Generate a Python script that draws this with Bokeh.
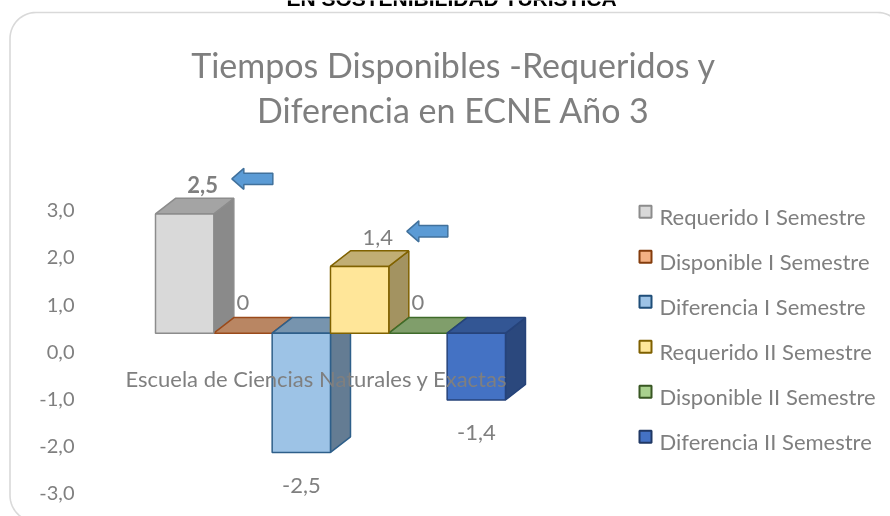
import numpy as np
from bokeh.plotting import figure
from bokeh.models import Range1d, ColumnDataSource
from bokeh.core.properties import value
from bokeh.embed import file_html
from bokeh.resources import INLINE

# ---------------- data ----------------
series = ["Requerido I Semestre", "Disponible I Semestre", "Diferencia I Semestre",
          "Requerido II Semestre", "Disponible II Semestre", "Diferencia II Semestre"]
values = [2.5, 0.0, -2.5, 1.4, 0.0, -1.4]
value_labels = ["2,5", "0", "-2,5", "1,4", "0", "-1,4"]
bold_labels = [True, False, False, False, False, False]
category = "Escuela de Ciencias Naturales y Exactas"
tick_values = [3, 2, 1, 0, -1, -2, -3]
tick_labels = ["3,0", "2,0", "1,0", "0,0", "-1,0", "-2,0", "-3,0"]
arrow_series = ["Requerido I Semestre", "Requerido II Semestre"]
title_lines = ["Tiempos Disponibles -Requeridos y", "Diferencia en ECNE Año 3"]
header = "EN SOSTENIBILIDAD TURÍSTICA"

face_colors = ["#d9d9d9", "#f4b183", "#9dc3e6", "#ffe699", "#a9d18e", "#4472c4"]
edge_colors = ["#8c8c8c", "#9a4a1a", "#2e5f8a", "#806200", "#3f6b2a", "#26437a"]
legend_edges = ["#8c8c8c", "#843c0c", "#1f4e79", "#7f6000", "#385723", "#203864"]

# ---------------- geometry / style ----------------
W, H = 890, 516
BAR_LEFT_PX, BAR_W_PX = 155.0, 58.33
BASE_PX, PPU = 332.7, 47.7
DEPTH_X_PX, DEPTH_Y_PX = 20.0, 15.6
AX_BASE_PX, AX_PPU = 358.7, 47.1
GRAY = "#7f7f7f"
FONT = value("Lato")
BL = 0.38   # baseline correction (fraction of font size)


def xd(px):
    return (px - BAR_LEFT_PX) / BAR_W_PX


def yd(py):
    return (BASE_PX - py) / PPU


def ya(py):
    return (AX_BASE_PX - py) / AX_PPU


def shade(hexcol, f):
    h = hexcol.lstrip("#")
    r, g, b = (int(h[i:i + 2], 16) for i in (0, 2, 4))
    return "#%02x%02x%02x" % (int(r * f), int(g * f), int(b * f))


ddx = DEPTH_X_PX / BAR_W_PX
ddy = DEPTH_Y_PX / PPU

p = figure(width=W, height=H, output_backend="svg", toolbar_location=None,
           x_range=Range1d(xd(0), xd(W)), y_range=Range1d(yd(H), yd(0)),
           x_axis_location=None, y_axis_location=None, min_border=0)
p.grid.visible = False
p.outline_line_color = None
p.background_fill_color = "white"
p.border_fill_color = "white"
p.extra_y_ranges = {"axis": Range1d(ya(H), ya(0))}
p.styles = {"position": "fixed", "top": "0px", "left": "0px"}

# ---------------- rounded border ----------------
def rounded_rect(left, top, right, bottom, r, n=16):
    xs, ys = [], []
    corners = [(left + r, top + r, 180, 270), (right - r, top + r, 270, 360),
               (right - r, bottom - r, 0, 90), (left + r, bottom - r, 90, 180)]
    for cx, cy, a0, a1 in corners:
        t = np.radians(np.linspace(a0, a1, n))
        xs.extend(cx + r * np.cos(t))
        ys.extend(cy + r * np.sin(t))
    xs.append(xs[0]); ys.append(ys[0])
    return [xd(x) for x in xs], [yd(y) for y in ys]

bx, by = rounded_rect(9.5, 12, 903, 521, 26)
p.line(bx, by, line_color="#d9d9d9", line_width=1.6)

# ---------------- 3D bars ----------------
fronts, tops, sides = [], [], []
for i, v in enumerate(values):
    x0, x1 = i, i + 1
    t, b = max(v, 0), min(v, 0)
    fronts.append(([x0, x1, x1, x0], [b, b, t, t]))
    tops.append(([x0, x1, x1 + ddx, x0 + ddx], [t, t, t + ddy, t + ddy]))
    sides.append(([x1, x1 + ddx, x1 + ddx, x1], [b, b + ddy, t + ddy, t]))

nonzero = [i for i, v in enumerate(values) if v != 0]


def face_source(faces, idx, factor):
    return ColumnDataSource(dict(
        xs=[faces[i][0] for i in idx], ys=[faces[i][1] for i in idx],
        fill=[shade(face_colors[i], factor) for i in idx],
        line=[edge_colors[i] for i in idx]))

for faces, idx, f in ((sides, nonzero, 0.64), (tops, range(len(values)), 0.76),
                      (fronts, nonzero, 1.0)):
    p.patches("xs", "ys", source=face_source(faces, idx, f), fill_color="fill",
              line_color="line", line_width=1.5)

# category label
p.text(x=[len(series) / 2], y=[0], text=[category], x_offset=-14, y_offset=54 - BL * 22,
       text_font=FONT, text_font_size="22px", text_color=GRAY,
       text_align="center", text_baseline="alphabetic")

# data labels
lx, ly, xo, yo = [], [], [], []
for i, v in enumerate(values):
    lx.append(i + 0.5)
    ly.append(v)
    if v > 0:
        xo.append(18); yo.append(-21 - BL * 22)
    elif v == 0:
        xo.append(0); yo.append(-22 - BL * 22)
    else:
        xo.append(0); yo.append(41 - BL * 22)
lab = ColumnDataSource(dict(x=lx, y=ly, t=value_labels, xo=xo, yo=yo,
                            st=["bold" if bflag else "normal" for bflag in bold_labels]))
p.text("x", "y", text="t", x_offset="xo", y_offset="yo", text_font_style="st",
       source=lab, text_font=FONT, text_font_size="22px", text_color=GRAY,
       text_align="center", text_baseline="alphabetic")

# arrows pointing at highlighted labels
arrow_rel = [(0, 0), (12, -10.5), (12, -5.7), (41, -5.7), (41, 5.7), (12, 5.7), (12, 10.5)]
axs, ays = [], []
for name in arrow_series:
    i = series.index(name)
    cx, cy = i + 1 + ddx, max(values[i], 0) + ddy
    tipx, tipy = cx - 2 / BAR_W_PX, cy + 19.5 / PPU
    axs.append([tipx + rx / BAR_W_PX for rx, ry in arrow_rel])
    ays.append([tipy - ry / PPU for rx, ry in arrow_rel])
p.patches(axs, ays, fill_color="#5b9bd5", line_color="#41719c", line_width=1.5)

# ---------------- legend ----------------
LEG_X, LEG_Y0, LEG_STEP = 645, 211.3, 45
rows = np.arange(len(series))
p.rect(x=[xd(LEG_X)] * len(series), y=[yd(LEG_Y0 + LEG_STEP * k) for k in rows],
       width=12, height=12, width_units="screen", height_units="screen",
       fill_color=face_colors, line_color=legend_edges, line_width=2)
p.text(x=[xd(LEG_X + 14)] * len(series), y=[yd(LEG_Y0 + 12.7 + LEG_STEP * k) for k in rows],
       y_offset=-BL * 22,
       text=series, text_font=FONT, text_font_size="22px", text_color=GRAY,
       text_align="left", text_baseline="alphabetic")

# ---------------- value axis labels ----------------
p.text(x=[xd(74)] * len(tick_values), y=tick_values, text=tick_labels, y_range_name="axis",
       y_offset=-BL * 20,
       text_font=FONT, text_font_size="20px", text_color=GRAY,
       text_align="right", text_baseline="alphabetic")

# ---------------- title and header ----------------
p.text(x=[xd(453)] * 2, y=[yd(77), yd(122)], text=title_lines, text_font=FONT,
       y_offset=-BL * 34,
       text_font_size="34px", text_color=GRAY, text_align="center", text_baseline="alphabetic")
p.text(x=[xd(451)], y=[yd(5.5)], text=[header], text_font=value("Liberation Sans"),
       y_offset=-BL * 21,
       text_font_style="bold", text_font_size="21px", text_color="black",
       text_align="center", text_baseline="alphabetic")

open("out.html", "w").write(file_html(p, INLINE))
